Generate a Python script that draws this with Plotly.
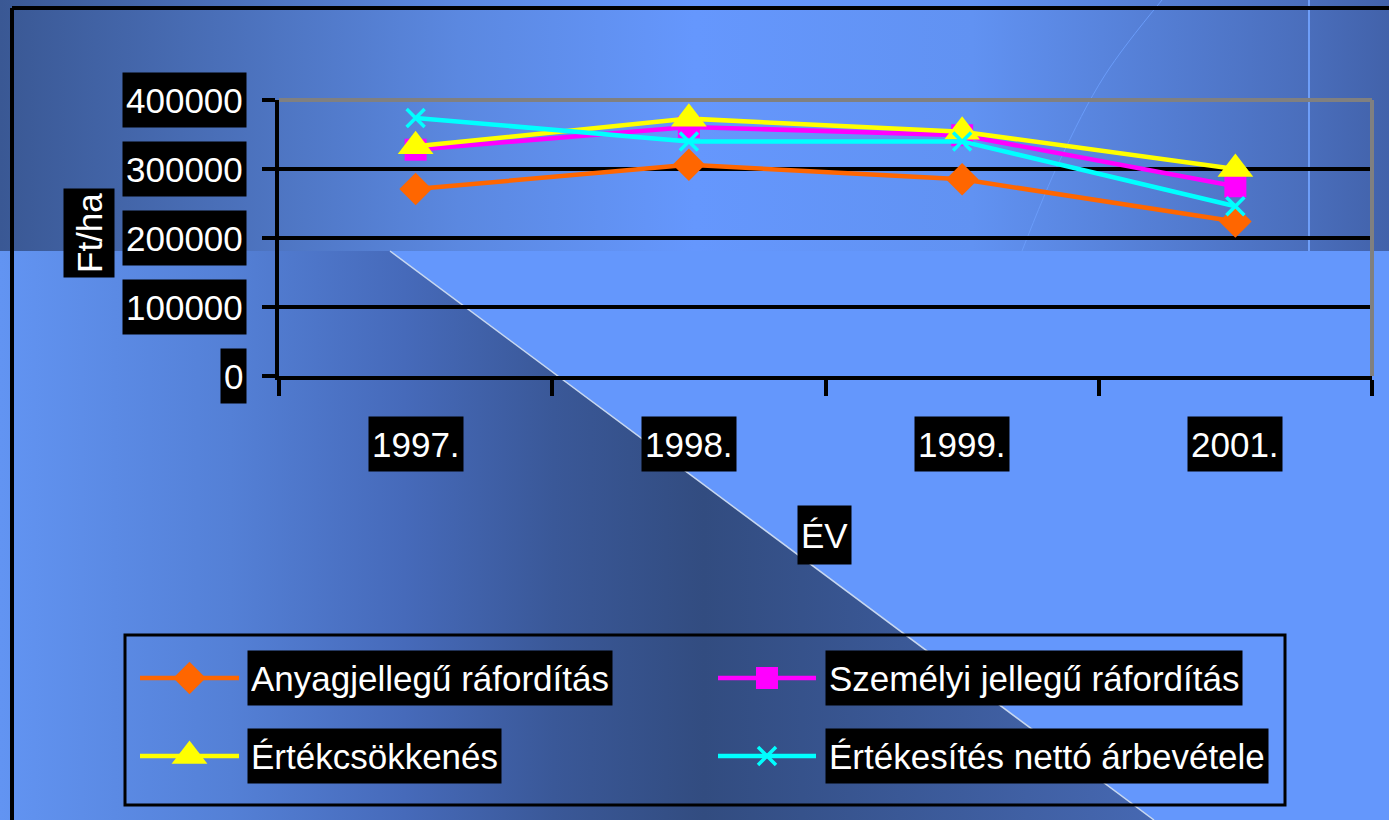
import plotly.graph_objects as go

# ---------------- data ----------------
years = ['1997.', '1998.', '1999.', '2001.']
anyag = [271000, 306000, 285000, 224000]
szemelyi = [328000, 361000, 349000, 275000]
ertekcsokk = [333000, 373000, 354000, 300000]
arbevetel = [374000, 340000, 340000, 246000]

series_names = ['Anyagjellegű ráfordítás', 'Személyi jellegű ráfordítás',
                'Értékcsökkenés', 'Értékesítés nettó árbevétele']
series_values = [anyag, szemelyi, ertekcsokk, arbevetel]
series_colors = ['#FF6600', '#FF00FF', '#FFFF00', '#00FFFF']
series_symbols = ['diamond', 'square', 'triangle-up', 'x-thin']
series_sizes = [25, 22, 31, 18]

y_ticks = [0, 100000, 200000, 300000, 400000]
y_title = 'Ft/ha'
x_title = 'ÉV'

W, H = 1389, 820
FONT = 'Liberation Sans, Arial, sans-serif'
FS = 35
BOXH = 48

fig = go.Figure()

# ---------------- background (pixel-coordinate axes x/y) ----------------
def bg_poly(xs, ys, stops, x0, x1):
    fig.add_trace(go.Scatter(
        x=xs, y=ys, fill='toself', mode='none',
        fillgradient=dict(type='horizontal', colorscale=stops, start=x0, stop=x1),
        hoverinfo='skip', showlegend=False, xaxis='x', yaxis='y'))

def bg_line(xs, ys, color, width, shape='linear'):
    fig.add_trace(go.Scatter(
        x=xs, y=ys, mode='lines', line=dict(color=color, width=width, shape=shape),
        hoverinfo='skip', showlegend=False, xaxis='x', yaxis='y'))

# upper band
bg_poly([0, W, W, 0, 0], [0, 0, 251, 251, 0],
        [[0, '#3A5894'], [0.33, '#5B88E0'], [0.5, '#6597FD'], [0.7, '#6192F2'],
         [0.94, '#4A6EBC'], [1, '#4262AA']], 0, W)
# dark diagonal region
bg_poly([0, 390, 1154, 0, 0], [251, 251, 820, 820, 251],
        [[0, '#6294F2'], [0.2, '#5480D6'], [0.35, '#466ABA'], [0.48, '#3A5898'],
         [0.61, '#324C80'], [0.78, '#3A5896'], [1, '#4668B2']], 0, 1154)
bg_line([390, 1154], [251, 820], '#C8D8F0', 1.5)
bg_line([1309, 1309], [0, 251], '#6E9EF8', 2)
bg_line([1162, 1105, 1060, 1022], [0, 75, 160, 251], '#6A9CFA', 1.0, 'spline')

# ---------------- legend samples (pixel coords) ----------------
leg_pos = [(140, 239, 678, 247), (718, 816, 678, 825),
           (140, 239, 756, 247), (718, 816, 756, 825)]
annotations = []
for i, (x0, x1, yy, tx) in enumerate(leg_pos):
    sym = series_symbols[i]
    fig.add_trace(go.Scatter(
        x=[x0, x1], y=[yy, yy], mode='lines',
        line=dict(color=series_colors[i], width=4.5),
        hoverinfo='skip', showlegend=False, xaxis='x', yaxis='y'))
    mk = dict(symbol=sym, size=series_sizes[i], color=series_colors[i])
    if sym == 'x-thin':
        mk['line'] = dict(color=series_colors[i], width=3.5)
    else:
        mk['line'] = dict(width=0)
    fig.add_trace(go.Scatter(
        x=[(x0 + x1) / 2], y=[yy], mode='markers', marker=mk,
        hoverinfo='skip', showlegend=False, xaxis='x', yaxis='y'))
    annotations.append(dict(
        x=tx, y=yy, xref='x', yref='y', xanchor='left', yanchor='middle',
        text=series_names[i], showarrow=False, bgcolor='black', borderpad=3,
        height=BOXH, valign='middle',
        font=dict(family=FONT, size=FS, color='white')))

# ---------------- main chart (x2/y2) ----------------
for i in range(len(series_names)):
    sym = series_symbols[i]
    mk = dict(symbol=sym, size=series_sizes[i], color=series_colors[i])
    if sym == 'x-thin':
        mk['line'] = dict(color=series_colors[i], width=3.5)
    else:
        mk['line'] = dict(width=0)
    fig.add_trace(go.Scatter(
        x=years, y=series_values[i], name=series_names[i], mode='lines+markers',
        line=dict(color=series_colors[i], width=4.5), marker=mk,
        showlegend=False, xaxis='x2', yaxis='y2'))

px0, px1, py0, py1 = 279, 1372, 100, 376
# y tick labels
for v in y_ticks:
    annotations.append(dict(
        x=(px0 - 32) / W, y=v, xref='paper', yref='y2', xanchor='right', yanchor='middle',
        text=f'{v}', showarrow=False, bgcolor='black', borderpad=3, height=BOXH,
        font=dict(family=FONT, size=FS, color='white')))
# x tick labels (category index positions on the category axis)
for idx, c in enumerate(years):
    annotations.append(dict(
        x=idx, y=1 - 444 / H, xref='x2', yref='paper', xanchor='center', yanchor='middle',
        text=c, showarrow=False, bgcolor='black', borderpad=3, height=BOXH,
        font=dict(family=FONT, size=FS, color='white')))
# axis titles
annotations.append(dict(
    x=89 / W, y=1 - 233 / H, xref='paper', yref='paper', xanchor='center',
    yanchor='middle', text=y_title, textangle=-90, height=42,
    showarrow=False, bgcolor='black', borderpad=4,
    font=dict(family=FONT, size=FS, color='white')))
annotations.append(dict(
    x=824 / W, y=1 - 535 / H, xref='paper', yref='paper', xanchor='center',
    yanchor='middle', text=x_title, height=52,
    showarrow=False, bgcolor='black', borderpad=3,
    font=dict(family=FONT, size=FS, color='white')))

shapes = [
    # outer frame
    dict(type='line', xref='x', yref='y', x0=12, x1=W, y0=8, y1=8,
         line=dict(color='black', width=4), layer='above'),
    dict(type='line', xref='x', yref='y', x0=12, x1=12, y0=8, y1=H,
         line=dict(color='black', width=4), layer='above'),
    # legend box
    dict(type='rect', xref='x', yref='y', x0=125, x1=1285, y0=635, y1=805,
         line=dict(color='black', width=3), layer='above'),
    # plot area gray top / right border
    dict(type='line', xref='x2 domain', yref='y2 domain', x0=0, x1=1, y0=1, y1=1,
         line=dict(color='#808080', width=4), layer='above'),
    dict(type='line', xref='x2 domain', yref='y2 domain', x0=1, x1=1, y0=0, y1=1,
         line=dict(color='#808080', width=4), layer='above'),
]

fig.update_layout(
    width=W, height=H, margin=dict(l=0, r=0, t=0, b=0),
    paper_bgcolor='#6497FC', plot_bgcolor='rgba(0,0,0,0)',
    xaxis=dict(range=[0, W], domain=[0, 1], visible=False, fixedrange=True),
    yaxis=dict(range=[H, 0], domain=[0, 1], visible=False, fixedrange=True),
    xaxis2=dict(type='category', categoryorder='array', categoryarray=years,
                range=[-0.5, 3.5], domain=[px0 / W, px1 / W], anchor='y2',
                showticklabels=False, ticks='outside', tickson='boundaries',
                ticklen=16, tickwidth=3.5, tickcolor='black',
                showline=True, linecolor='black', linewidth=3.5, showgrid=False,
                zeroline=False),
    yaxis2=dict(range=[0, 400000], domain=[1 - py1 / H, 1 - py0 / H], anchor='x2',
                tickvals=y_ticks, showticklabels=False, ticks='outside',
                ticklen=13, tickwidth=3.5, tickcolor='black',
                showgrid=True, gridcolor='black', gridwidth=4,
                showline=True, linecolor='black', linewidth=3.5, zeroline=False),
    annotations=annotations, shapes=shapes, showlegend=False,
    font=dict(family=FONT),
)

fig.write_html('out.html', config={'displayModeBar': False},
               post_script="document.body.style.margin='0';document.body.style.overflow='hidden';")
